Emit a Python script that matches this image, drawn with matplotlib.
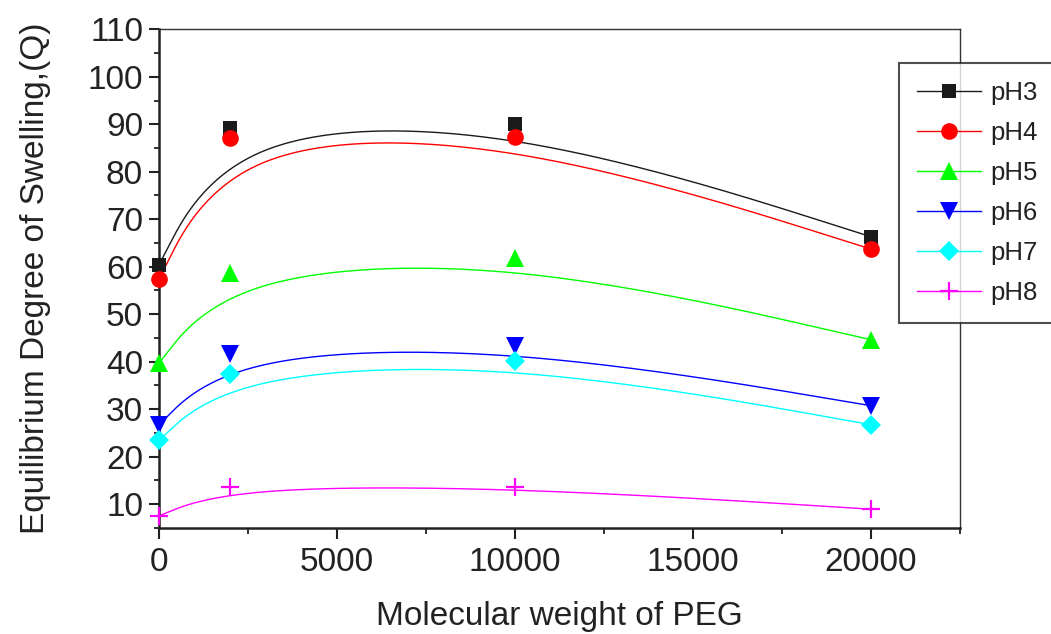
import numpy as np
import matplotlib
matplotlib.use("Agg")
import matplotlib.pyplot as plt

plt.rcParams['font.family'] = ['Liberation Sans', 'DejaVu Sans']

# PEG molecular weight and swelling degree per pH
peg_mw = [0, 2000, 10000, 20000]
ph3 = [60.4, 89.2, 90.1, 66.3]
ph4 = [57.4, 87.0, 87.3, 63.7]
ph5 = [39.7, 58.7, 61.8, 44.6]
ph6 = [26.7, 41.6, 43.3, 30.7]
ph7 = [23.4, 37.4, 40.1, 26.7]
ph8 = [7.5, 13.6, 13.6, 8.9]

series = [
    ("pH3", ph3, "#1a1a1a", "s", 10.5),
    ("pH4", ph4, "#ff0000", "o", 12),
    ("pH5", ph5, "#00ff00", "^", 13),
    ("pH6", ph6, "#0000ff", "v", 13),
    ("pH7", ph7, "#00ffff", "D", 10),
    ("pH8", ph8, "#ff00ff", "+", 13),
]


def bspline(xs, ys, n=60):
    # uniform cubic B-spline, end points repeated so curve hits them
    px = np.array([xs[0]] * 2 + list(xs) + [xs[-1]] * 2, dtype=float)
    py = np.array([ys[0]] * 2 + list(ys) + [ys[-1]] * 2, dtype=float)
    t = np.linspace(0, 1, n)
    b0 = (1 - t) ** 3 / 6
    b1 = (3 * t ** 3 - 6 * t ** 2 + 4) / 6
    b2 = (-3 * t ** 3 + 3 * t ** 2 + 3 * t + 1) / 6
    b3 = t ** 3 / 6
    cx, cy = [], []
    for i in range(len(px) - 3):
        cx.append(b0 * px[i] + b1 * px[i + 1] + b2 * px[i + 2] + b3 * px[i + 3])
        cy.append(b0 * py[i] + b1 * py[i + 1] + b2 * py[i + 2] + b3 * py[i + 3])
    return np.concatenate(cx), np.concatenate(cy)


fig = plt.figure(figsize=(10.51, 6.34), dpi=100)
ax = fig.add_axes([159 / 1051, 1 - 527.7 / 634, 801 / 1051, (527.7 - 29.3) / 634])

for name, vals, col, mk, ms in series:
    cx, cy = bspline(peg_mw, vals)
    ax.plot(cx, cy, color=col, lw=1.0)
    mew = 1.6 if mk == "+" else 0
    ax.plot(peg_mw, vals, linestyle="none", marker=mk, color=col, markersize=ms,
            markeredgewidth=mew, clip_on=False, zorder=3)
    # legend handle
    ax.plot([], [], color=col, lw=1.0, marker=mk, markersize=ms,
            markeredgewidth=mew, label=name)

ax.set_xlim(0, 22500)
ax.set_ylim(5, 110)
ax.set_xticks([0, 5000, 10000, 15000, 20000])
ax.set_xticks(np.arange(2500, 22501, 5000), minor=True)
ax.set_yticks(np.arange(10, 111, 10))
ax.set_yticks(np.arange(5, 111, 10), minor=True)

txt = "#222222"
ax.tick_params(axis='both', which='major', labelsize=24, colors=txt, width=1.5)
ax.tick_params(axis='x', which='major', length=8, pad=6)
ax.tick_params(axis='y', which='major', length=7.5, pad=4)
ax.tick_params(axis='x', which='minor', length=4, width=1.3, colors=txt)
ax.tick_params(axis='y', which='minor', length=3.5, width=1.3, colors=txt)

for side in ['left', 'bottom']:
    ax.spines[side].set_linewidth(1.8)
    ax.spines[side].set_color(txt)
for side in ['top', 'right']:
    ax.spines[side].set_linewidth(1.0)
    ax.spines[side].set_color("#333333")

ax.set_xlabel("Molecular weight of PEG", fontsize=24, color=txt)
ax.set_ylabel("Equilibrium Degree of Swelling,(Q)", fontsize=24, color=txt)
ax.xaxis.set_label_coords(0.5, -0.148)
ax.yaxis.set_label_coords(-0.135, 0.5)

leg = fig.legend(loc='upper left', bbox_to_anchor=(899 / 1051, 1 - 63 / 634),
                 fontsize=18.5, frameon=True, fancybox=False, handlelength=2.5,
                 handletextpad=0.35, labelspacing=0.62, borderpad=0.7,
                 borderaxespad=0)
leg.get_frame().set_edgecolor("#222222")
leg.get_frame().set_linewidth(1.5)
for t in leg.get_texts():
    t.set_color(txt)

fig.savefig("out.png", dpi=100)
